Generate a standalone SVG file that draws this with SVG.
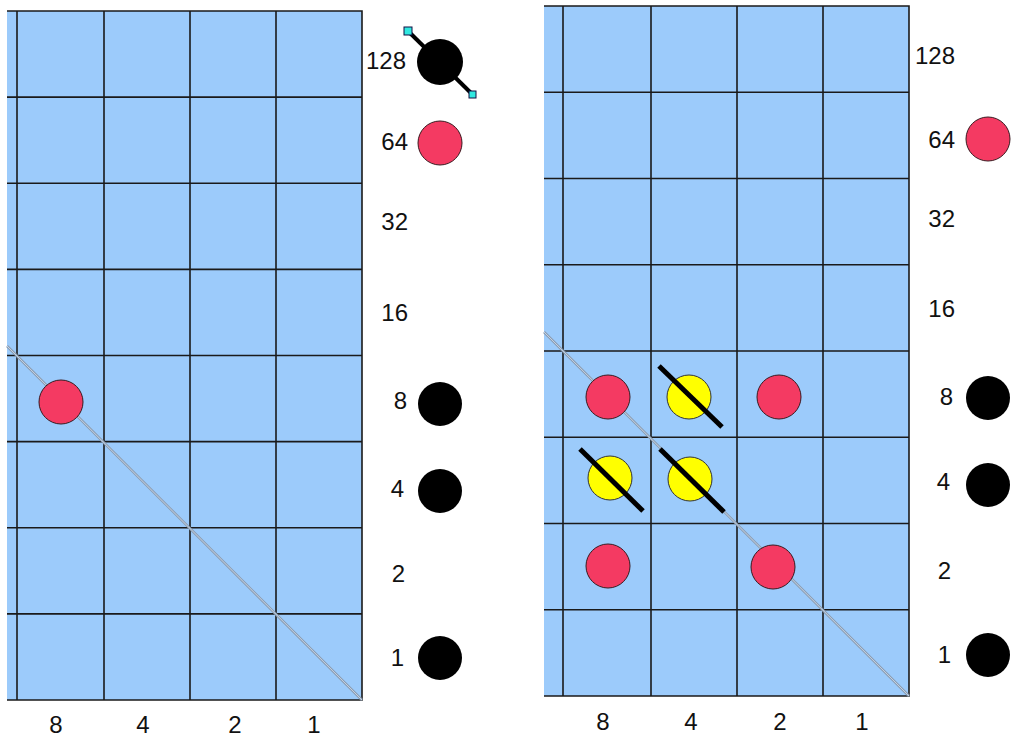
<svg xmlns="http://www.w3.org/2000/svg" width="1011" height="742" viewBox="0 0 1011 742">
<style>
.bg{fill:#9ccbfb}
.gl{stroke:#1a1a1a;stroke-width:1.6;fill:none}
.dg1{stroke:#8c9db2;stroke-width:2.6;fill:none}
.dg2{stroke:#c8d8ea;stroke-width:0.9;fill:none}
.red{fill:#f43a62;stroke:#3a1a20;stroke-width:1}
.blk{fill:#000}
.yel{fill:#ffff00;stroke:#333;stroke-width:1}
.bar{stroke:#000;stroke-width:5;stroke-linecap:butt}
.hnd{fill:#30e8e0;stroke:#114;stroke-width:1}
text{font-family:"Liberation Sans",Arial,sans-serif;font-size:24px;fill:#111}
.lab{text-anchor:end}
.col{text-anchor:middle}
</style>
<rect width="1011" height="742" fill="#fff"/>

<g id="grid-left">
<rect class="bg" x="7" y="11" width="355" height="689"/>
<path class="gl" d="M7 11H362V700H7 M17 11V700 M104 11V700 M190 11V700 M276 11V700 M7 97.1H362 M7 183.2H362 M7 269.4H362 M7 355.5H362 M7 441.6H362 M7 527.8H362 M7 613.9H362"/>
</g>
<g id="grid-right">
<rect class="bg" x="544" y="6" width="365" height="690"/>
<path class="gl" d="M544 6H909V696H544 M563 6V696 M651 6V696 M737 6V696 M823 6V696 M544 92.3H909 M544 178.5H909 M544 264.8H909 M544 351H909 M544 437.3H909 M544 523.5H909 M544 609.8H909"/>
</g>

<g id="connectors">
<line class="dg1" x1="7" y1="346" x2="362" y2="700"/>
<line class="dg2" x1="7" y1="346" x2="362" y2="700"/>
<line class="dg1" x1="544" y1="332" x2="909" y2="696"/>
<line class="dg2" x1="544" y1="332" x2="909" y2="696"/>
</g>

<g id="left-cell-8-8"><circle class="red" cx="61" cy="402" r="22"/></g>

<g id="left-labels">
<text class="lab" x="406" y="69">128</text>
<text class="lab" x="408" y="150">64</text>
<text class="lab" x="408" y="230">32</text>
<text class="lab" x="408" y="321">16</text>
<text class="lab" x="407" y="409">8</text>
<text class="lab" x="404" y="497">4</text>
<text class="lab" x="405" y="582">2</text>
<text class="lab" x="404" y="666">1</text>
</g>
<g id="left-bit-128">
<line x1="408" y1="31" x2="473" y2="95" stroke="#000" stroke-width="4"/>
<circle class="blk" cx="440" cy="62" r="23"/>
<rect class="hnd" x="404" y="27" width="8" height="8"/>
<rect class="hnd" x="469" y="91" width="7" height="7"/>
</g>
<g id="left-bit-64"><circle class="red" cx="440" cy="143" r="22"/></g>
<g id="left-bit-8"><circle class="blk" cx="440" cy="404" r="22"/></g>
<g id="left-bit-4"><circle class="blk" cx="440" cy="491" r="22"/></g>
<g id="left-bit-1"><circle class="blk" cx="440" cy="658" r="22"/></g>

<g id="left-cols">
<text class="col" x="56" y="733">8</text>
<text class="col" x="143" y="733">4</text>
<text class="col" x="235" y="733">2</text>
<text class="col" x="314" y="733">1</text>
</g>

<g id="right-cells">
<circle class="red" cx="608" cy="397" r="22"/>
<circle class="red" cx="779" cy="397" r="22"/>
<circle class="red" cx="608" cy="566" r="22"/>
<circle class="red" cx="773" cy="567" r="22"/>
</g>
<g id="right-yellow-1"><circle class="yel" cx="689" cy="397" r="22"/><line class="bar" x1="659" y1="366" x2="722" y2="427"/></g>
<g id="right-yellow-2"><circle class="yel" cx="610" cy="478" r="22"/><line class="bar" x1="580" y1="449" x2="643" y2="511"/></g>
<g id="right-yellow-3"><circle class="yel" cx="690" cy="479" r="22"/><line class="bar" x1="660" y1="449" x2="724" y2="512"/></g>

<g id="right-labels">
<text class="lab" x="955" y="64">128</text>
<text class="lab" x="955" y="148">64</text>
<text class="lab" x="955" y="227">32</text>
<text class="lab" x="955" y="317">16</text>
<text class="lab" x="953" y="405">8</text>
<text class="lab" x="950" y="490">4</text>
<text class="lab" x="951" y="579">2</text>
<text class="lab" x="951" y="663">1</text>
</g>
<g id="right-bit-64"><circle class="red" cx="988" cy="139" r="22"/></g>
<g id="right-bit-8"><circle class="blk" cx="988" cy="398" r="22"/></g>
<g id="right-bit-4"><circle class="blk" cx="988" cy="485" r="22"/></g>
<g id="right-bit-1"><circle class="blk" cx="988" cy="655" r="22"/></g>

<g id="right-cols">
<text class="col" x="603" y="730">8</text>
<text class="col" x="691" y="730">4</text>
<text class="col" x="780" y="730">2</text>
<text class="col" x="862" y="730">1</text>
</g>
</svg>
